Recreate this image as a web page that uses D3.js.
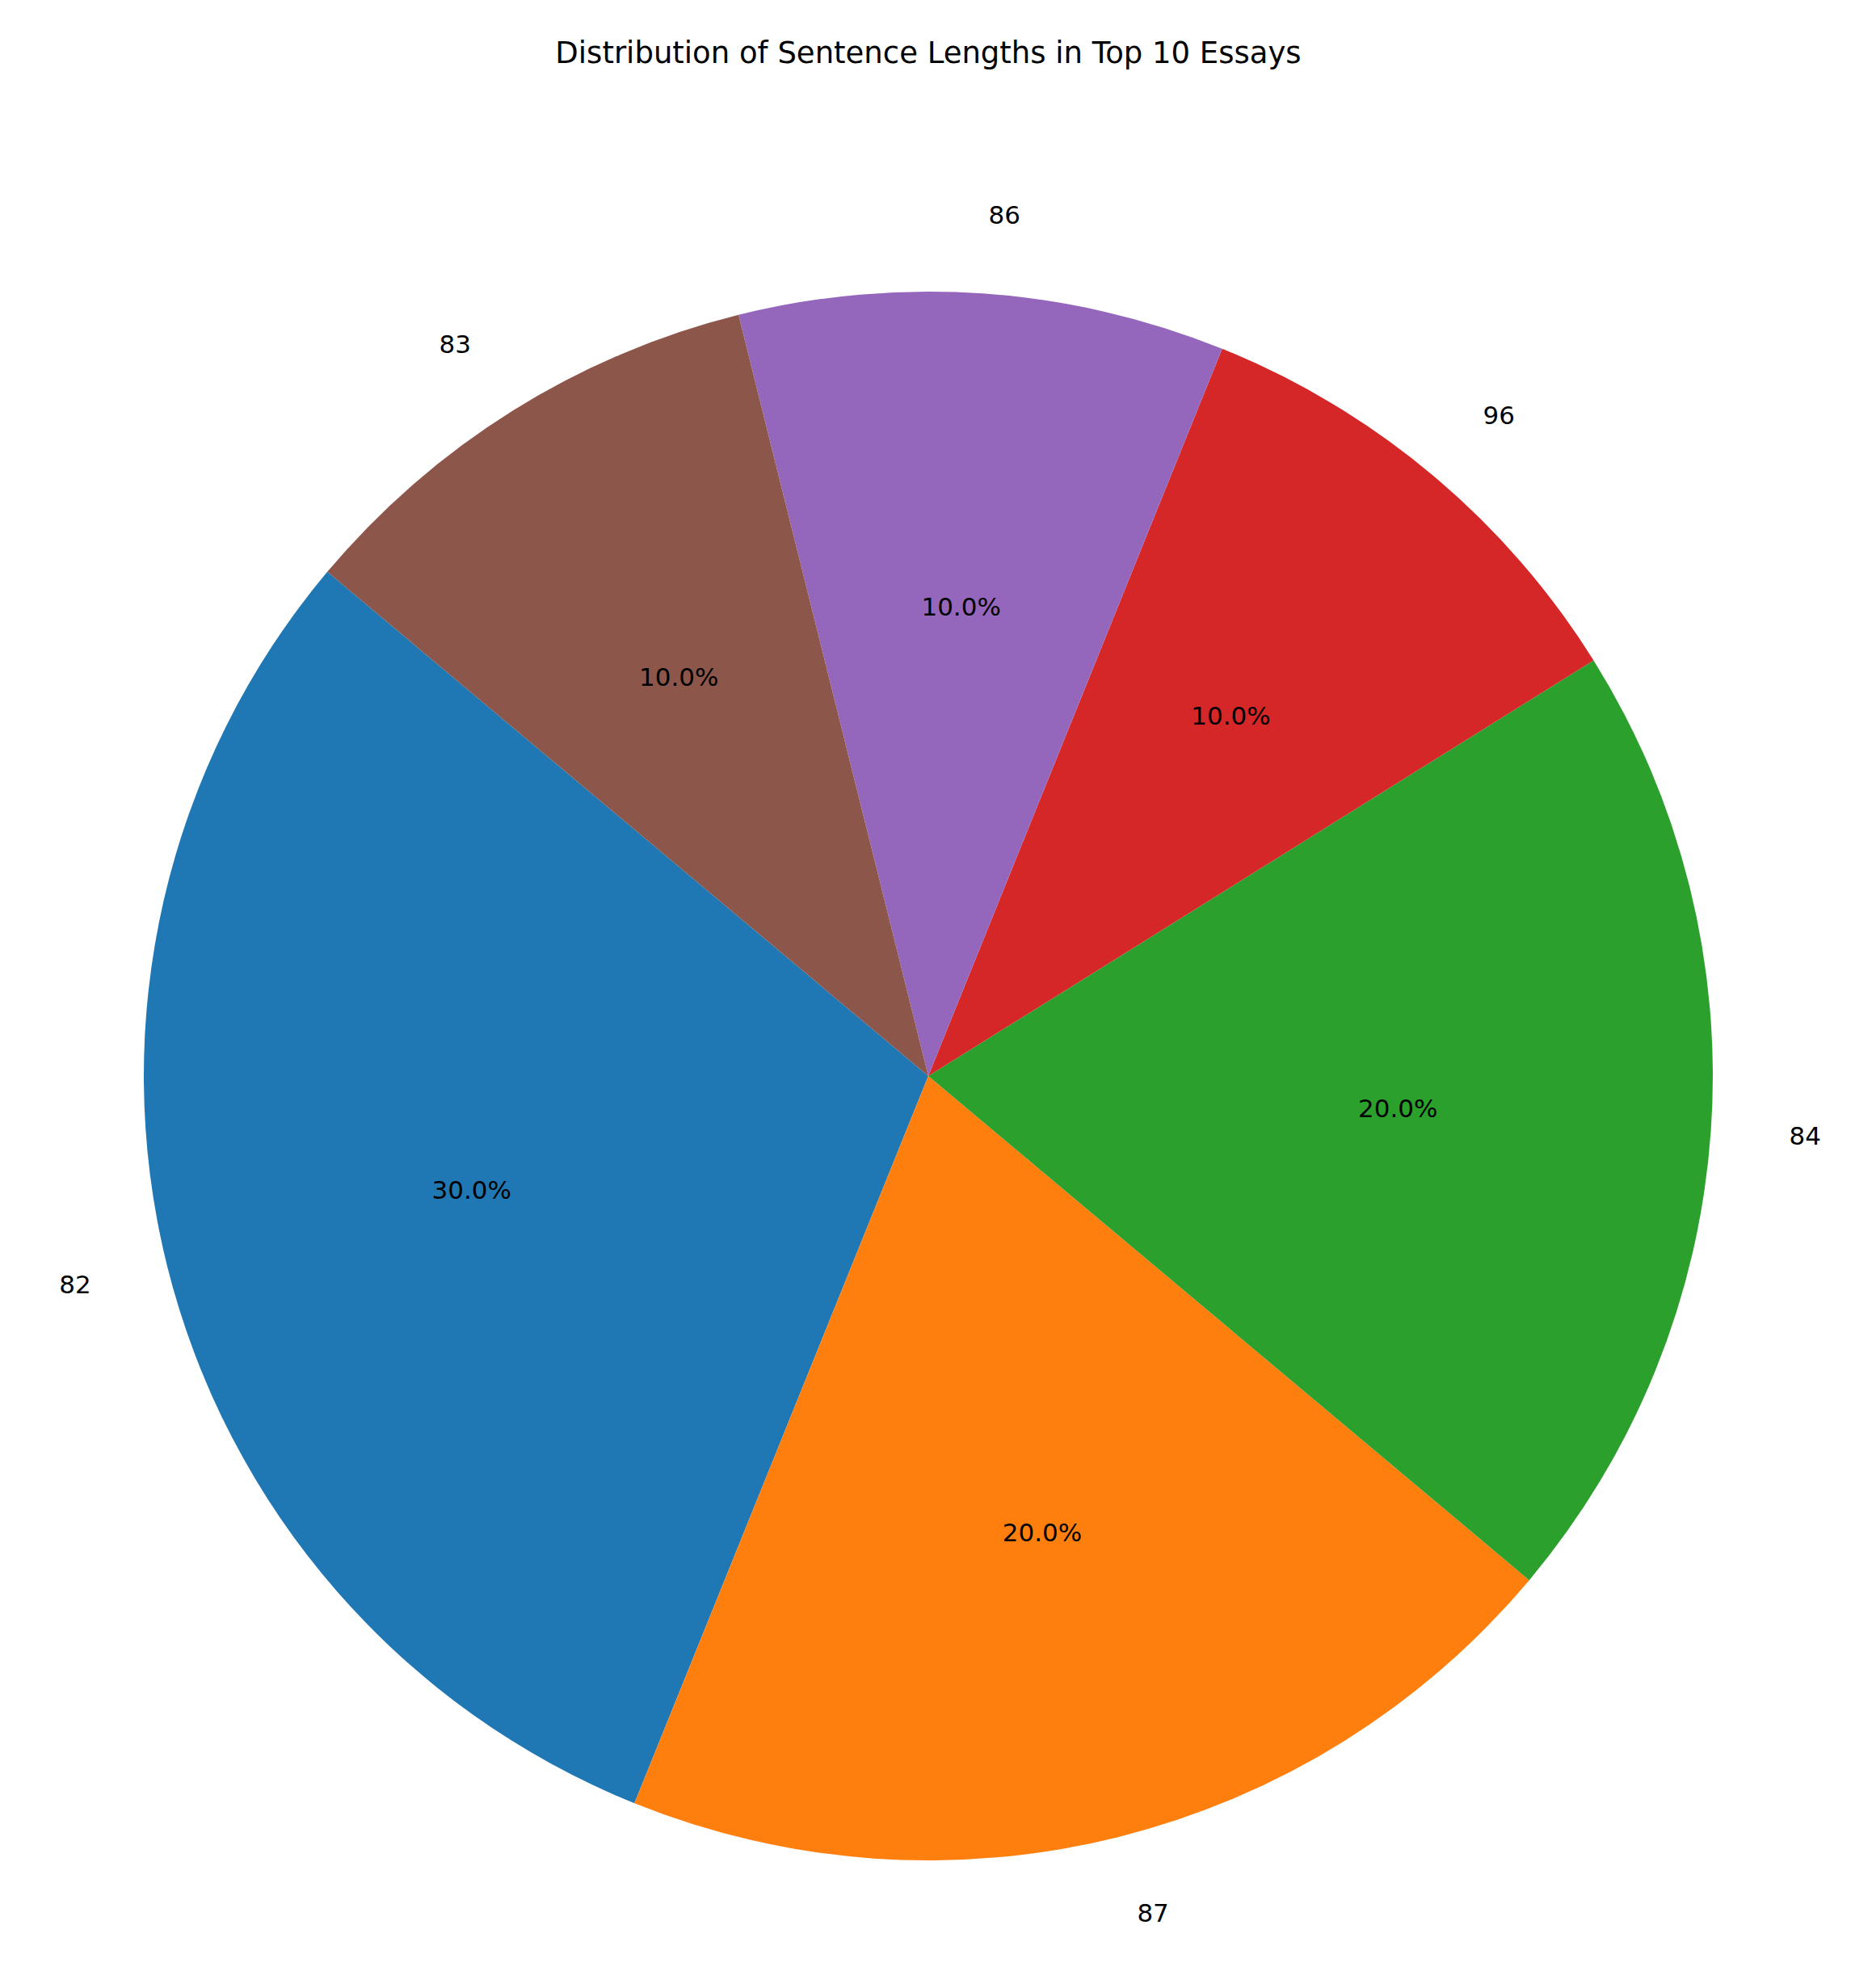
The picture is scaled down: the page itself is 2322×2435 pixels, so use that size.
<!DOCTYPE html>
<html><head><meta charset="utf-8">
<script src="https://cdn.jsdelivr.net/npm/d3@7"></script>
<style>body{margin:0;background:#fff}</style></head>
<body><svg id="c" width="2322" height="2435"></svg>
<script>
const categories = ["82","87","84","96","86","83"];
const values = [3,2,2,1,1,1];
const colors = ["#1f77b4","#ff7f0e","#2ca02c","#d62728","#9467bd","#8c564b"];
const title = "Distribution of Sentence Lengths in Top 10 Essays";

const svg = d3.select("#c");
const cx = 1149, cy = 1332, r = 971;
const font = "DejaVu Sans, sans-serif";
svg.append("text").attr("x",1149).attr("y",78).attr("text-anchor","middle")
  .attr("font-family",font).attr("font-size",37).text(title);

const start = (90-140)*Math.PI/180;
const pie = d3.pie().sort(null).startAngle(start).endAngle(start-2*Math.PI);
const arcs = pie(values);
const arc = d3.arc().innerRadius(0).outerRadius(r);
const g = svg.append("g").attr("transform",`translate(${cx},${cy})`);
const total = d3.sum(values);
g.selectAll("path").data(arcs).enter().append("path")
  .attr("d",arc).attr("fill",(d,i)=>colors[i]);
arcs.forEach((d,i)=>{
  const a=(d.startAngle+d.endAngle)/2;
  const sx=Math.sin(a), sy=-Math.cos(a);
  g.append("text").attr("x",sx*r*1.1).attr("y",sy*r*1.1).attr("dy","0.35em")
    .attr("text-anchor",sx>0?"start":"end").attr("font-family",font).attr("font-size",31)
    .text(categories[i]);
  g.append("text").attr("x",sx*r*0.6).attr("y",sy*r*0.6).attr("dy","0.35em")
    .attr("text-anchor","middle").attr("font-family",font).attr("font-size",31)
    .text((values[i]/total*100).toFixed(1)+"%");
});
</script></body></html>
